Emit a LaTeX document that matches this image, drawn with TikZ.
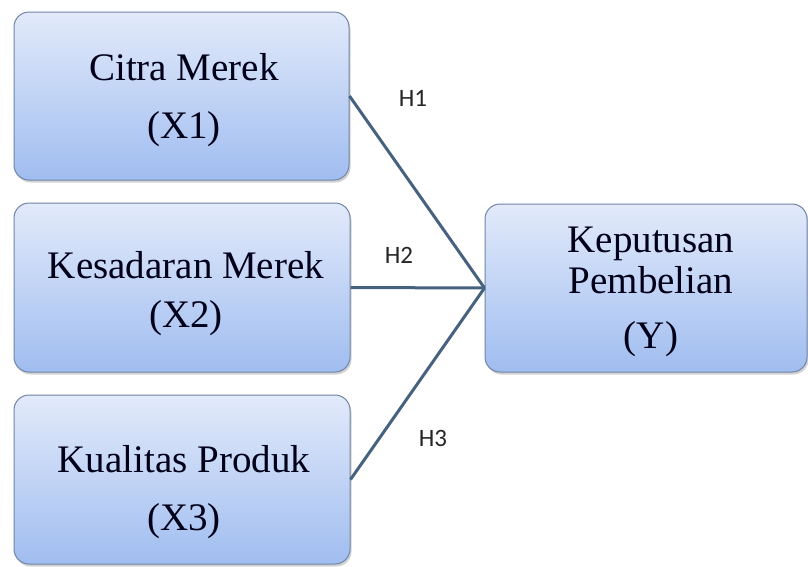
\documentclass[tikz,border=0pt]{standalone}
\usepackage{fontspec}
\setmainfont{Liberation Serif}
\newfontfamily\hfont{Carlito}
\usetikzlibrary{shadows}
\definecolor{boxtop}{HTML}{E2EAFA}
\definecolor{boxbot}{HTML}{A0BDF0}
\definecolor{boxedge}{HTML}{7185A8}
\definecolor{linkcol}{HTML}{46627F}
\tikzset{
  varbox/.style={draw=boxedge, line width=1pt, rounded corners=15pt,
    top color=boxtop, bottom color=boxbot, inner sep=0pt,
    drop shadow={opacity=0.35, shadow xshift=1.5pt, shadow yshift=-2.5pt}},
  boxtext/.style={anchor=base, inner sep=0pt, text=black!90!blue,
    font=\fontsize{39}{44}\selectfont},
  hlabel/.style={anchor=base, inner sep=0pt, font=\hfont\fontsize{25}{30}\selectfont, text=black!85},
  link/.style={draw=linkcol, line width=3pt}
}
\begin{document}
\begin{tikzpicture}[x=1pt,y=-1pt]
\useasboundingbox[fill=white] (0,0) rectangle (808,566);
\node[varbox, minimum width=335pt, minimum height=168pt] (b1) at (181.5,96) {};
\node[varbox, minimum width=336pt, minimum height=169pt] (b2) at (182,287.5) {};
\node[varbox, minimum width=336pt, minimum height=169pt] (b3) at (182,479.5) {};
\node[varbox, minimum width=322pt, minimum height=168pt] (by) at (646,288) {};
\coordinate (j) at (by.west);
\draw[link] (b1.east) -- (j);
\draw[link] (b2.east) -- (j);
\draw[link] (b3.east) -- (j);
% texts
\node[boxtext] (t1a) at (184,80) {Citra Merek};
\node[boxtext] (t1b) at (184,138) {(X1)};
\node[boxtext] (t2a) at (186,278) {Kesadaran Merek};
\node[boxtext] (t2b) at (186,327) {(X2)};
\node[boxtext] (t3a) at (184,472) {Kualitas Produk};
\node[boxtext] (t3b) at (184,530) {(X3)};
\node[boxtext] (tya) at (651,252) {Keputusan};
\node[boxtext] (tyb) at (651,293) {Pembelian};
\node[boxtext] (tyc) at (651,348) {(Y)};
% hypothesis labels
\node[hlabel] (h1) at (413,106) {H1};
\node[hlabel] (h2) at (399,263) {H2};
\node[hlabel] (h3) at (433,446) {H3};
\end{tikzpicture}
\end{document}
